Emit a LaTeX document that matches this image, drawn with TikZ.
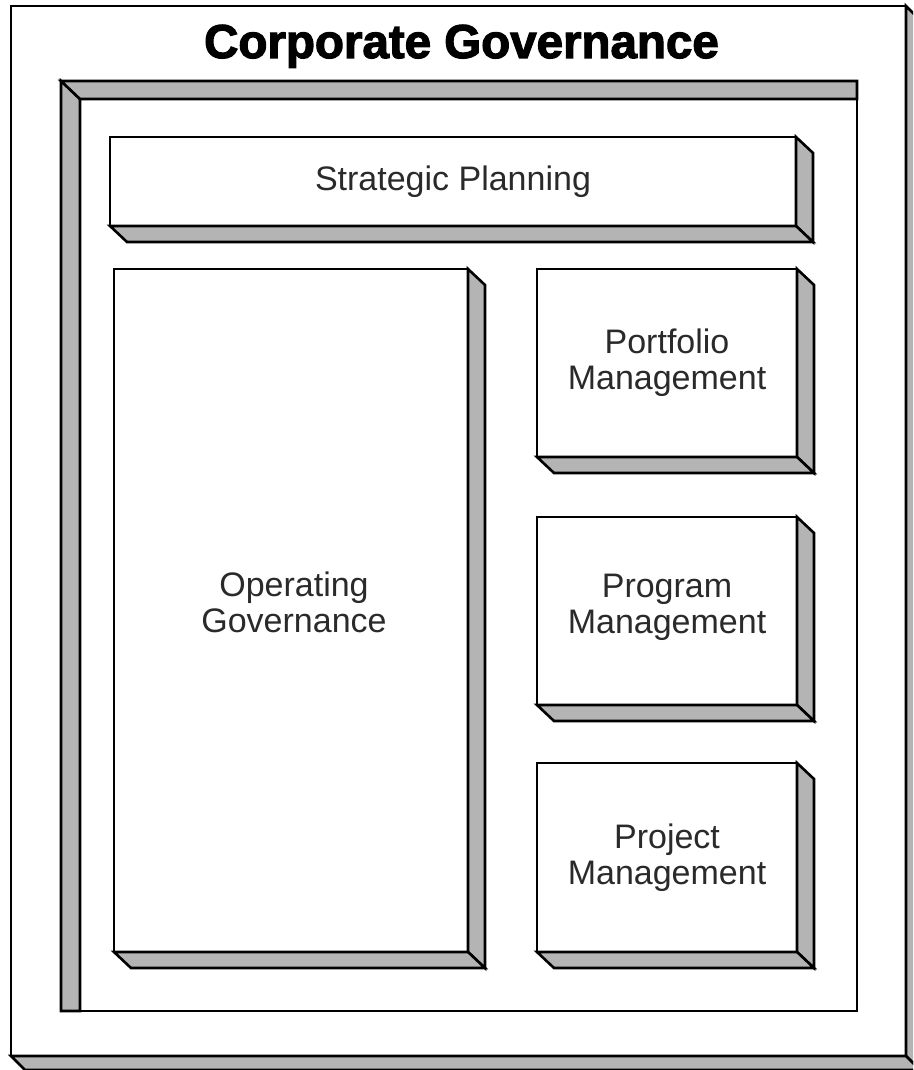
\documentclass[tikz,border=0pt]{standalone}
\usepackage{fontspec}
\setmainfont{Liberation Sans}
\newfontfamily\titlefont{Liberation Sans}[BoldFeatures={FakeBold=2.5}]
\usetikzlibrary{calc}
\definecolor{facegray}{RGB}{180,180,180}
\definecolor{inkgray}{RGB}{42,42,42}
\tikzset{
  x=1pt, y=-1pt,
  edge/.style={line width=2.6pt, line join=miter},
  labeltext/.style={align=center, text=inkgray, font=\fontsize{34}{36}\selectfont, inner sep=0pt},
  front/.style={draw, edge, fill=white, rectangle, outer sep=0pt, labeltext},
  face/.style={draw, edge, fill=facegray},
}
% right and bottom faces of a raised slab, depth (17,16)
\newcommand\slabfaces[1]{%
  \filldraw[face] (#1.north east) -- ++(17,16) -- ($(#1.south east)+(17,16)$) -- (#1.south east) -- cycle;
  \filldraw[face] (#1.south west) -- (#1.south east) -- ($(#1.south east)+(17,16)$) -- ($(#1.south west)+(17,16)$) -- cycle;
}
\begin{document}
\begin{tikzpicture}
\useasboundingbox (0,0) rectangle (913,1070);
\clip (0,0) rectangle (913,1070);
\fill[white] (0,0) rectangle (913,1070);

% outer slab
\node[front, minimum width=895pt, minimum height=1050pt] (outer) at (458.5,531) {};
\filldraw[face] (outer.north east) -- ++(14,14) -- ($(outer.south east)+(14,14)$) -- (outer.south east) -- cycle;
\filldraw[face] (outer.south west) -- (outer.south east) -- ($(outer.south east)+(14,14)$) -- ($(outer.south west)+(14,14)$) -- cycle;

\node[anchor=base, font=\titlefont\bfseries\fontsize{47.5}{50}\selectfont] (title) at (461.5,58) {Corporate Governance};

% recessed frame
\node[front, minimum width=777pt, minimum height=912pt] (frame) at (468.5,555) {};
\filldraw[face] ($(frame.north west)+(-19,-18)$) -- (frame.north west) -- (frame.south west) -- ++(-19,0) -- cycle;
\filldraw[face] ($(frame.north west)+(-19,-18)$) -- ($(frame.north east)+(0,-18)$) -- (frame.north east) -- (frame.north west) -- cycle;

% slabs
\node[front, minimum width=686pt, minimum height=89pt] (strat) at (453,181.5) {Strategic Planning};
\slabfaces{strat}
\node[front, minimum width=354pt, minimum height=683pt] (opgov) at (291,610.5) {};
\slabfaces{opgov}
\node[labeltext] (opgovlabel) at (294,602) {Operating\\Governance};
\node[front, minimum width=260pt, minimum height=188pt] (port) at (667,363) {Portfolio\\Management};
\slabfaces{port}
\node[front, minimum width=260pt, minimum height=188pt] (prog) at (667,611) {};
\slabfaces{prog}
\node[labeltext] (proglabel) at (667,607) {Program\\Management};
\node[front, minimum width=260pt, minimum height=189pt] (proj) at (667,857.5) {Project\\Management};
\slabfaces{proj}
\end{tikzpicture}
\end{document}
